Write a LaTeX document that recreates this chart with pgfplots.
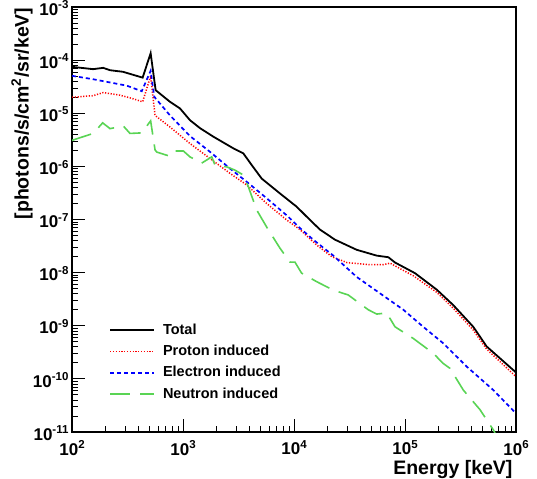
\documentclass[border=0pt]{standalone}
\usepackage{fontspec}
\setmainfont{Liberation Sans}
\usepackage{pgfplots}
\pgfplotsset{compat=1.18}
\definecolor{rootgreen}{RGB}{89,212,84}
% power-of-ten tick label with a raised, smaller exponent
\newcommand{\pw}[1]{10\raisebox{0.38em}{\fontsize{11.5}{11.5}\selectfont #1}}
\begin{document}
\begin{tikzpicture}
\begin{axis}[
  name=ax,
  xmode=log, ymode=log,
  scale only axis, width=444pt, height=425pt,
  xmin=100, xmax=1e6, ymin=1e-11, ymax=1e-3,
  axis line style={line width=1.1pt},
  tick style={line width=0.8pt, black},
  major tick length=13pt, minor tick length=6.5pt,
  tick align=inside, xtick pos=bottom, ytick pos=left,
  xtick={1e2,1e3,1e4,1e5,1e6},
  xticklabels={\pw{2},\pw{3},\pw{4},\pw{5},\pw{6}},
  minor xtick={200,300,400,500,600,700,800,900,
    2000,3000,4000,5000,6000,7000,8000,9000,
    2e4,3e4,4e4,5e4,6e4,7e4,8e4,9e4,
    2e5,3e5,4e5,5e5,6e5,7e5,8e5,9e5},
  ytick={1e-11,1e-10,1e-9,1e-8,1e-7,1e-6,1e-5,1e-4,1e-3},
  yticklabels={\pw{-11},\pw{-10},\pw{-9},\pw{-8},\pw{-7},\pw{-6},\pw{-5},\pw{-4},\pw{-3}},
  minor ytick={2e-11,3e-11,4e-11,5e-11,6e-11,7e-11,8e-11,9e-11,
    2e-10,3e-10,4e-10,5e-10,6e-10,7e-10,8e-10,9e-10,
    2e-9,3e-9,4e-9,5e-9,6e-9,7e-9,8e-9,9e-9,
    2e-8,3e-8,4e-8,5e-8,6e-8,7e-8,8e-8,9e-8,
    2e-7,3e-7,4e-7,5e-7,6e-7,7e-7,8e-7,9e-7,
    2e-6,3e-6,4e-6,5e-6,6e-6,7e-6,8e-6,9e-6,
    2e-5,3e-5,4e-5,5e-5,6e-5,7e-5,8e-5,9e-5,
    2e-4,3e-4,4e-4,5e-4,6e-4,7e-4,8e-4,9e-4},
  tick label style={font=\fontsize{17}{17}\selectfont\bfseries},
  xticklabel style={yshift=-5pt},
  yticklabel style={yshift=-1pt},
  legend cell align=left,
  legend image code/.code={\draw[#1] (0pt,0pt) -- (44pt,0pt);},
  legend style={draw=none, fill=none, at={(0.0766,0.261)}, anchor=north west,
    font=\fontsize{14.5}{14.5}\selectfont\bfseries,
    row sep=7.3pt, column sep=8pt,
    nodes={inner sep=0pt, text height=11pt, text depth=3pt}},
]
% total background
\addplot[black, line width=1.8pt] coordinates {
 (100,7.48e-5) (155,6.76e-5) (191,7.16e-5) (220,6.46e-5) (288,6.03e-5)
 (433,4.68e-5) (511,1.35e-4) (567,2.72e-5) (764,1.64e-5) (940,1.23e-5)
 (1156,7.4e-6) (1422,5.25e-6) (1875,3.63e-6) (2838,2.19e-6) (3493,1.76e-6)
 (4158,1.06e-6) (5117,5.89e-7) (7480,3.09e-7) (1.057e4,1.74e-7) (1.394e4,9.8e-8)
 (1.714e4,6.46e-8) (2.34e4,4.17e-8) (3.67e4,2.69e-8) (5.56e4,2.09e-8)
 (7.08e4,1.95e-8) (8.13e4,1.55e-8) (1.23e5,9.77e-9) (1.93e5,4.79e-9)
 (2.72e5,2.45e-9) (4.12e5,9.55e-10) (5.44e5,4.07e-10) (1e6,1.32e-10)
};
\addlegendentry{Total}
% proton induced
\addplot[red, line width=1.5pt, dash pattern=on 1.2pt off 1.6pt] coordinates {
 (100,2.0e-5) (155,2.14e-5) (191,2.45e-5) (270,2.19e-5) (345,1.91e-5)
 (433,1.64e-5) (511,5.0e-5) (560,9.1e-6) (764,5.5e-6) (1156,2.69e-6)
 (1750,1.41e-6) (2650,7.4e-7) (3750,4.47e-7) (5675,2.0e-7) (8590,9.8e-8)
 (1.132e4,6.46e-8) (1.60e4,3.31e-8) (2.19e4,2.0e-8) (2.99e4,1.55e-8)
 (4.84e4,1.41e-8) (6.38e4,1.41e-8) (7.33e4,1.51e-8) (8.41e4,1.29e-8)
 (1.19e5,8.7e-9) (1.93e5,4.27e-9) (2.72e5,2.14e-9) (4.12e5,8.3e-10)
 (5.44e5,3.63e-10) (1e6,1.10e-10)
};
\addlegendentry{Proton induced}
% electron induced
\addplot[blue, line width=1.7pt, dash pattern=on 4pt off 3pt] coordinates {
 (100,5.07e-5) (155,4.37e-5) (220,3.80e-5) (311,3.31e-5) (425,2.60e-5)
 (511,6.3e-5) (551,2.04e-5) (764,9.1e-6) (1156,3.72e-6) (1750,1.88e-6)
 (2650,9.1e-7) (3750,5.13e-7) (5675,2.51e-7) (8590,1.20e-7) (1.132e4,6.9e-8)
 (1.49e4,4.17e-8) (2.26e4,2.09e-8) (3.67e4,8.3e-9) (5.96e4,4.07e-9)
 (9.66e4,2.0e-9) (1.46e5,9.55e-10) (2.21e5,4.68e-10) (3.60e5,1.70e-10)
 (6.24e5,6.17e-11) (1e6,2.24e-11)
};
\addlegendentry{Electron induced}
% neutron induced
\addplot[rootgreen, line width=1.6pt, dash pattern=on 20pt off 10pt] coordinates {
 (100,3.09e-6) (155,4.17e-6) (189,6.6e-6) (220,5.13e-6) (290,5.75e-6)
 (333,4.17e-6) (425,4.27e-6) (511,7.2e-6) (560,2.04e-6) (580,1.86e-6)
 (764,1.55e-6) (847,1.95e-6) (1007,1.95e-6) (1156,1.51e-6) (1472,1.15e-6)
 (1816,1.51e-6) (1943,1.05e-6) (2477,9.8e-7) (2938,8.5e-7) (3493,6.9e-7)
 (3873,4.17e-7) (4613,1.51e-7) (5675,7.2e-8) (7480,2.88e-8) (9200,1.58e-8)
 (1.02e4,1.58e-8) (1.17e4,9.8e-9) (1.60e4,6.76e-9) (2.26e4,4.68e-9)
 (3.08e4,3.80e-9) (4.67e4,2.0e-9) (5.56e4,1.66e-9) (6.84e4,1.74e-9)
 (8.13e4,9.55e-10) (1.19e5,5.75e-10) (1.80e5,3.02e-10) (2.21e5,1.95e-10)
 (2.54e5,1.58e-10) (3.35e5,6.17e-11) (4.74e5,2.63e-11) (6.24e5,1.10e-11)
 (7.0e5,7e-12)
};
\addlegendentry{Neutron induced}
\end{axis}
\node[anchor=base east, font=\fontsize{19.5}{19.5}\selectfont\bfseries]
  at ([yshift=-43pt]ax.south east) {Energy [keV]};
\node[rotate=90, anchor=east, font=\fontsize{19.5}{19.5}\selectfont\bfseries]
  at ([shift={(-50pt,3pt)}]ax.north west) {[photons/s/cm\textsuperscript{2}/sr/keV]};
\pgfresetboundingbox
\path ([shift={(-72pt,-47pt)}]ax.south west) rectangle ([shift={(21pt,7pt)}]ax.north east);
\end{tikzpicture}
\end{document}
